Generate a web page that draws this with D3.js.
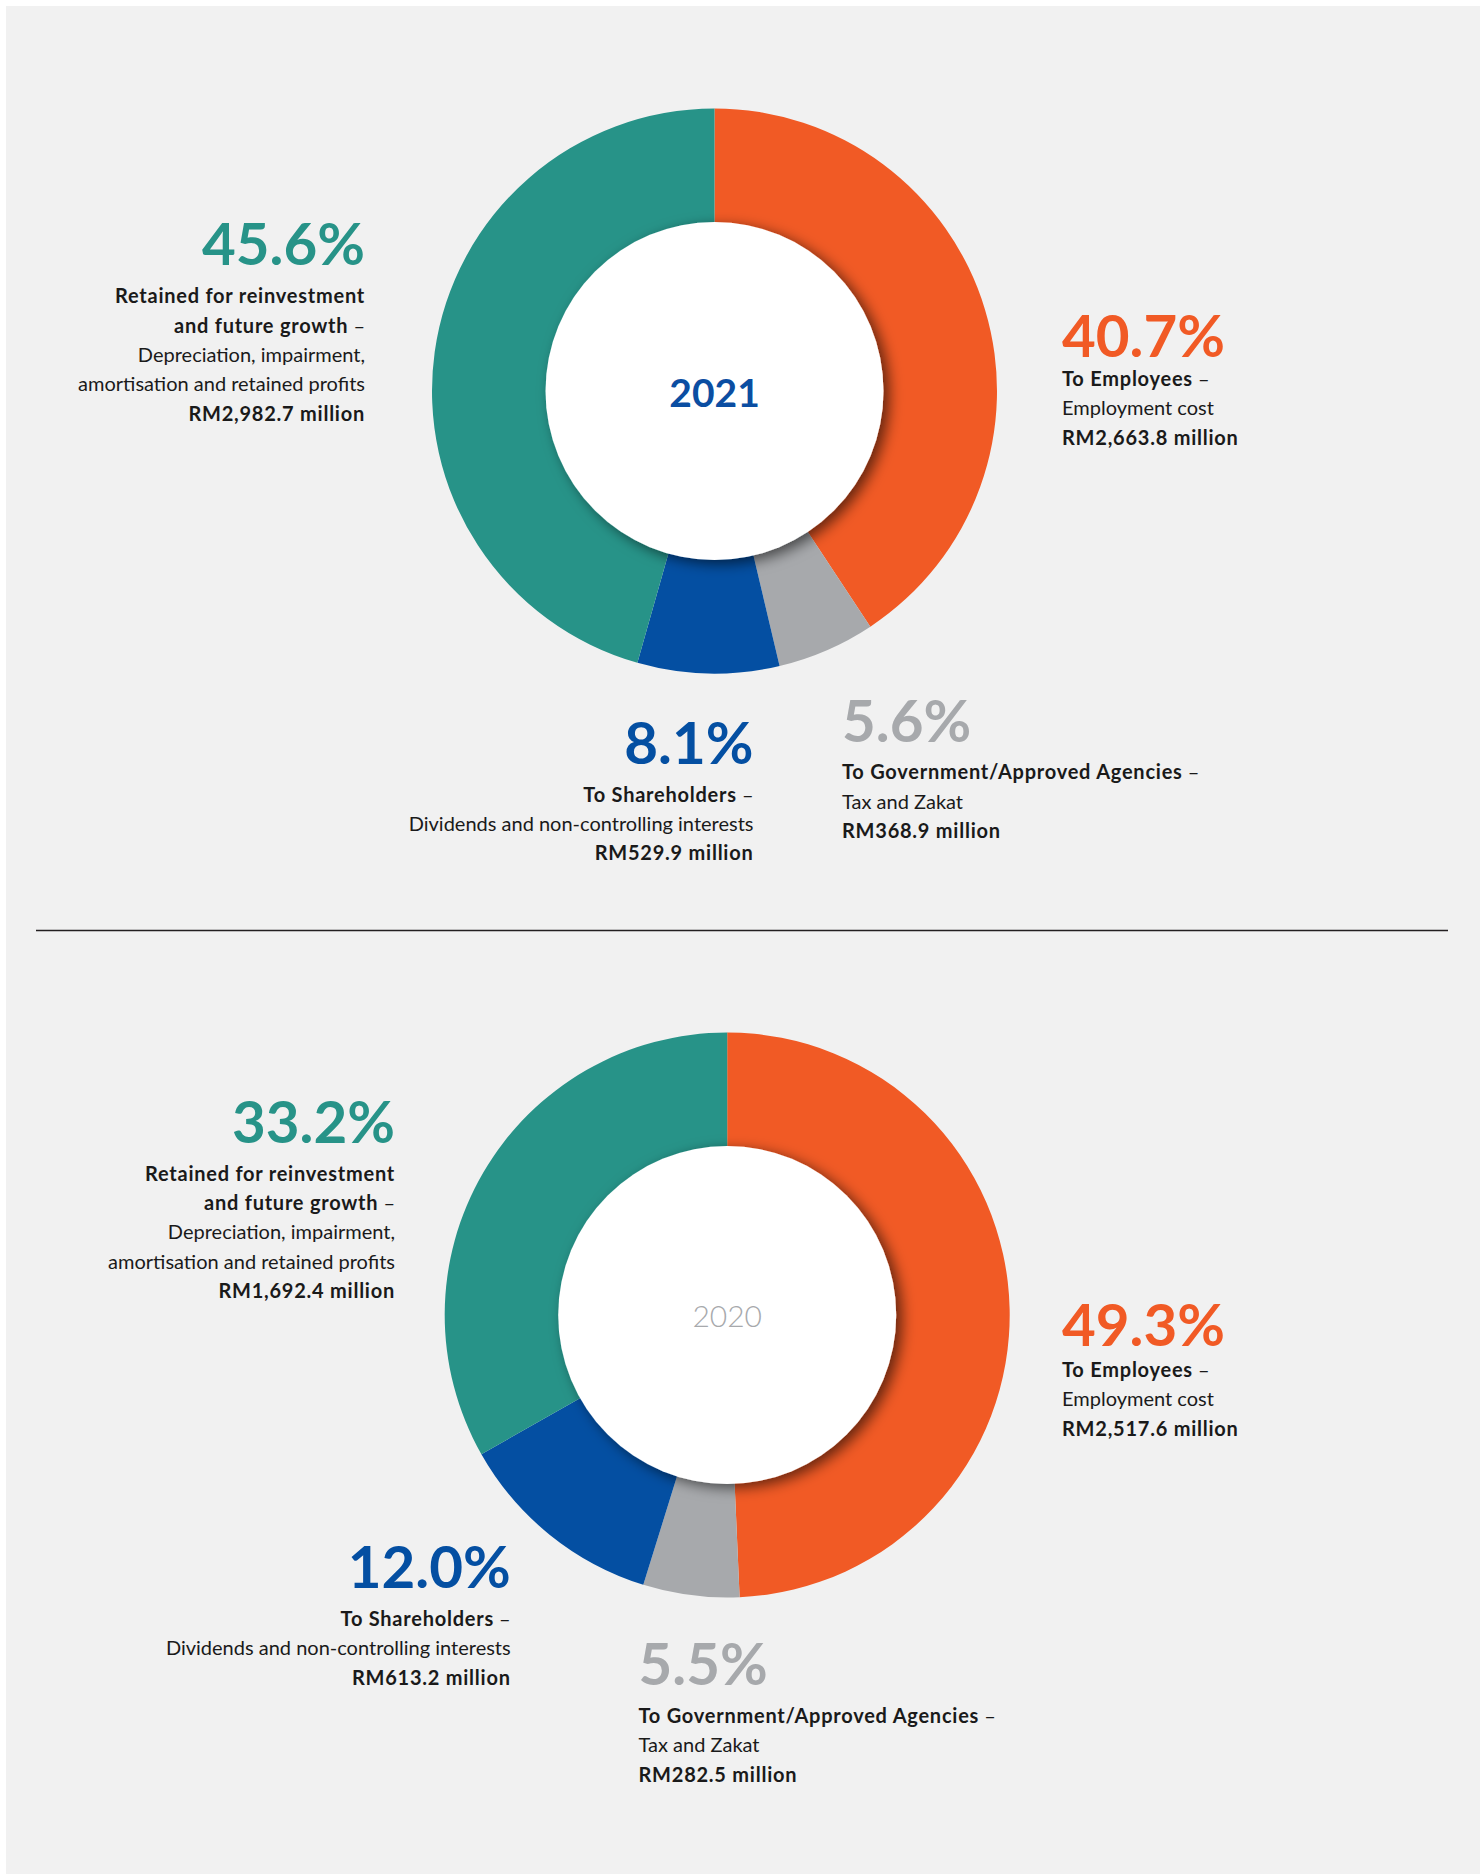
<!DOCTYPE html>
<html>
<head>
<meta charset="utf-8">
<script src="https://cdn.jsdelivr.net/npm/d3@7"></script>
<style>
  html, body { margin: 0; padding: 0; background: #ffffff; }
  svg { display: block; }
</style>
</head>
<body>
<svg id="chart" width="1480" height="1874"></svg>
<script>
// ---------------- DATA ----------------
const years = ["2021", "2020"];
const categories = [
  "To Employees",
  "To Government/Approved Agencies",
  "To Shareholders",
  "Retained for reinvestment and future growth"
];
const headingLines = [
  ["To Employees"],
  ["To Government/Approved Agencies"],
  ["To Shareholders"],
  ["Retained for reinvestment", "and future growth"]
];
const descriptionLines = [
  ["Employment cost"],
  ["Tax and Zakat"],
  ["Dividends and non-controlling interests"],
  ["Depreciation, impairment,", "amortisation and retained profits"]
];
const share2021 = [40.7, 5.6, 8.1, 45.6];
const share2020 = [49.3, 5.5, 12.0, 33.2];
const amount2021 = [2663.8, 368.9, 529.9, 2982.7];
const amount2020 = [2517.6, 282.5, 613.2, 1692.4];
const colors = ["#F15A25", "#A7A9AC", "#044FA2", "#279388"];

// ---------------- LAYOUT ----------------
const W = 1480, H = 1874;
const donuts = [
  { year: years[0], shares: share2021, amounts: amount2021, cx: 714.5, cy: 391,
    yearColor: "#0B4EA2", yearWeight: 700, yearSize: 39, yearBase: 407,
    labels: [
      { anchor: "start", x: 1062, big: 356.5, line: 386 },
      { anchor: "start", x: 842, big: 741.7, line: 779.3 },
      { anchor: "end", x: 753.5, big: 764, line: 801.7 },
      { anchor: "end", x: 365, big: 265, line: 303.3 }
    ] },
  { year: years[1], shares: share2020, amounts: amount2020, cx: 727.2, cy: 1315,
    yearColor: "#A7A9AC", yearWeight: 300, yearSize: 30, yearBase: 1327,
    labels: [
      { anchor: "start", x: 1062, big: 1346, line: 1377 },
      { anchor: "start", x: 638.5, big: 1685, line: 1723 },
      { anchor: "end", x: 510.7, big: 1588.3, line: 1626 },
      { anchor: "end", x: 395, big: 1143.3, line: 1180.7 }
    ] }
];
const R_OUT = 282.5, R_IN = 169;
const LINE_H = 29.3;
const FONT = "Lato, 'Open Sans', sans-serif";

const svg = d3.select("#chart");

// background panel
svg.append("rect").attr("x", 6).attr("y", 6).attr("width", W - 6).attr("height", H - 6)
  .attr("fill", "#F1F1F1");

// separator
svg.append("line").attr("x1", 36).attr("x2", 1448).attr("y1", 930.5).attr("y2", 930.5)
  .attr("stroke", "#231F20").attr("stroke-width", 1.3);

// shadow filter
const defs = svg.append("defs");
const f = defs.append("filter").attr("id", "innerShadow")
  .attr("x", "-30%").attr("y", "-30%").attr("width", "160%").attr("height", "160%");
f.append("feDropShadow").attr("dx", 6).attr("dy", 4).attr("stdDeviation", 7)
  .attr("flood-color", "#000").attr("flood-opacity", 0.58);

// measure helper for font fitting
function measure(text, size, weight) {
  const t = svg.append("text").attr("font-family", FONT).attr("font-size", size)
    .attr("font-weight", weight).text(text);
  const w = t.node().getComputedTextLength();
  t.remove();
  return w;
}
const bodySize = Math.min(20, Math.max(16, 100 * 291 / measure("amortisation and retained profits", 100, 400)));
const bigSize = Math.min(62, Math.max(48, 100 * 163 / measure("45.6%", 100, 700)));
const refBold = "Retained for reinvestment";
const boldLS = Math.min(1.5, Math.max(0, (250 - measure(refBold, bodySize, 700)) / refBold.length));

const fmtPct = d3.format(".1f");
const fmtAmt = d3.format(",.1f");

const pie = d3.pie().sort(null).value(d => d).startAngle(0).endAngle(2 * Math.PI);
const arc = d3.arc().innerRadius(R_IN - 10).outerRadius(R_OUT);

donuts.forEach(D => {
  const g = svg.append("g").attr("transform", `translate(${D.cx},${D.cy})`);
  g.selectAll("path.slice").data(pie(D.shares)).join("path")
    .attr("class", "slice")
    .attr("d", arc)
    .attr("fill", (d, i) => colors[i]);

  g.append("circle").attr("r", R_IN).attr("fill", "#FFFFFF").attr("filter", "url(#innerShadow)");
  g.append("text").attr("x", 0).attr("y", D.yearBase - D.cy)
    .attr("text-anchor", "middle")
    .attr("font-family", FONT).attr("font-size", D.yearSize).attr("font-weight", D.yearWeight)
    .attr("fill", D.yearColor).text(D.year);

  // labels
  D.labels.forEach((L, i) => {
    const lg = svg.append("g");
    lg.append("text").attr("x", L.x).attr("y", L.big).attr("text-anchor", L.anchor)
      .attr("font-family", FONT).attr("font-size", bigSize).attr("font-weight", 700)
      .attr("fill", colors[i]).text(fmtPct(D.shares[i]) + "%");

    let y = L.line;
    const heads = headingLines[i];
    heads.forEach((h, k) => {
      const t = lg.append("text").attr("x", L.x).attr("y", y).attr("text-anchor", L.anchor)
        .attr("font-family", FONT).attr("font-size", bodySize).attr("fill", "#1A1A1A");
      t.append("tspan").attr("font-weight", 700).attr("letter-spacing", boldLS).text(h);
      if (k === heads.length - 1) t.append("tspan").attr("font-weight", 400).text(" \u2013");
      y += LINE_H;
    });
    descriptionLines[i].forEach(dl => {
      lg.append("text").attr("x", L.x).attr("y", y).attr("text-anchor", L.anchor)
        .attr("font-family", FONT).attr("font-size", bodySize).attr("font-weight", 400)
        .attr("fill", "#1A1A1A").text(dl);
      y += LINE_H;
    });
    lg.append("text").attr("x", L.x).attr("y", y).attr("text-anchor", L.anchor)
      .attr("font-family", FONT).attr("font-size", bodySize).attr("font-weight", 700)
      .attr("letter-spacing", boldLS)
      .attr("fill", "#1A1A1A").text("RM" + fmtAmt(D.amounts[i]) + " million");
  });
});
</script>
</body>
</html>
